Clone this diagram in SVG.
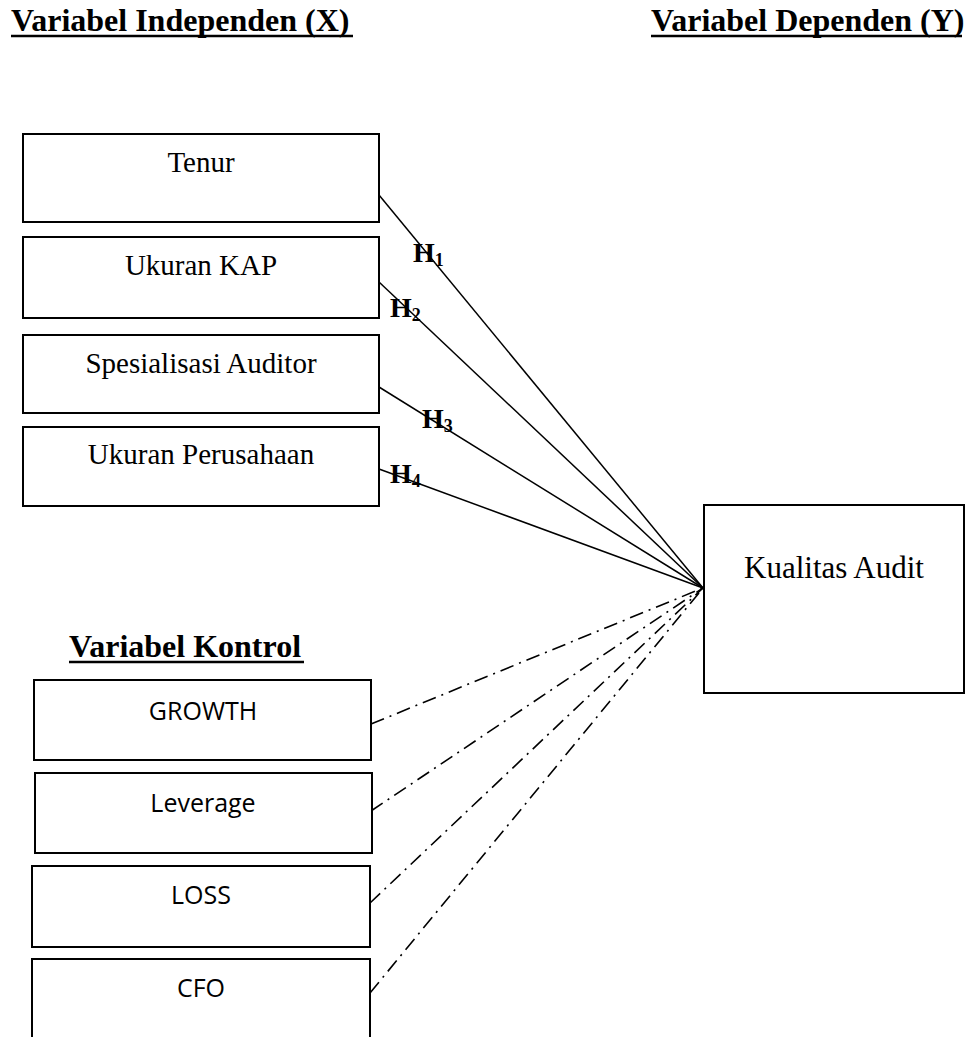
<svg xmlns="http://www.w3.org/2000/svg" width="968" height="1037" viewBox="0 0 968 1037">
<style>
.box{fill:#fff;stroke:#000;stroke-width:2}
.t{font-family:"Liberation Serif","Times New Roman",serif;font-size:29px;fill:#000;text-anchor:middle}
.c{font-family:"Open Sans","Noto Sans",sans-serif;font-size:25px;fill:#000;text-anchor:middle}
.h{font-family:"Liberation Serif","Times New Roman",serif;font-size:32px;font-weight:bold;fill:#000}
.hl{font-family:"Liberation Serif","Times New Roman",serif;font-size:28px;font-weight:bold;fill:#000}
.hs{font-size:18px}
.ul{stroke:#000;stroke-width:2.5}
.solid{stroke:#000;stroke-width:1.5;fill:none}
.dash{stroke:#000;stroke-width:1.6;fill:none;stroke-dasharray:14 6 2 6}
</style>
<rect width="968" height="1037" fill="#fff"/>
<g id="headings">
<text class="h" x="11" y="31">Variabel Independen (X)</text>
<line class="ul" x1="11" y1="36" x2="353" y2="36"/>
<text class="h" x="651" y="31">Variabel Dependen (Y)</text>
<line class="ul" x1="651" y1="36" x2="962" y2="36"/>
<text class="h" x="69" y="657">Variabel Kontrol</text>
<line class="ul" x1="69" y1="662" x2="304" y2="662"/>
</g>
<g id="connectors">
<line class="solid" x1="379" y1="195" x2="703" y2="588"/>
<line class="solid" x1="379" y1="282" x2="703" y2="588"/>
<line class="solid" x1="379" y1="387" x2="703" y2="588"/>
<line class="solid" x1="379" y1="469" x2="703" y2="588"/>
<line class="dash" x1="371" y1="724" x2="703" y2="588"/>
<line class="dash" x1="371" y1="811" x2="703" y2="588"/>
<line class="dash" x1="370" y1="903" x2="703" y2="588"/>
<line class="dash" x1="370" y1="993" x2="703" y2="588"/>
</g>
<g id="labels">
<text class="hl" x="413" y="262">H<tspan class="hs" dy="4">1</tspan></text>
<text class="hl" x="390" y="317">H<tspan class="hs" dy="4">2</tspan></text>
<text class="hl" x="422" y="428">H<tspan class="hs" dy="4">3</tspan></text>
<text class="hl" x="390" y="483">H<tspan class="hs" dy="4">4</tspan></text>
</g>
<g id="tenur"><rect class="box" x="23" y="134" width="356" height="88"/><text class="t" x="201" y="172">Tenur</text></g>
<g id="ukuran-kap"><rect class="box" x="23" y="237" width="356" height="81"/><text class="t" x="201" y="275">Ukuran KAP</text></g>
<g id="spesialisasi"><rect class="box" x="23" y="335" width="356" height="78"/><text class="t" x="201" y="373">Spesialisasi Auditor</text></g>
<g id="ukuran-perusahaan"><rect class="box" x="23" y="427" width="356" height="79"/><text class="t" x="201" y="464">Ukuran Perusahaan</text></g>
<g id="kualitas-audit"><rect class="box" x="704" y="505" width="260" height="188"/><text class="t" x="834" y="578" style="font-size:31px">Kualitas Audit</text></g>
<g id="growth"><rect class="box" x="34" y="680" width="337" height="80"/><text class="c" x="203" y="720">GROWTH</text></g>
<g id="leverage"><rect class="box" x="35" y="773" width="337" height="80"/><text class="c" x="203" y="812">Leverage</text></g>
<g id="loss"><rect class="box" x="32" y="866" width="338" height="81"/><text class="c" x="201" y="904">LOSS</text></g>
<g id="cfo"><rect class="box" x="32" y="959" width="338" height="100"/><text class="c" x="201" y="997">CFO</text></g>
</svg>
